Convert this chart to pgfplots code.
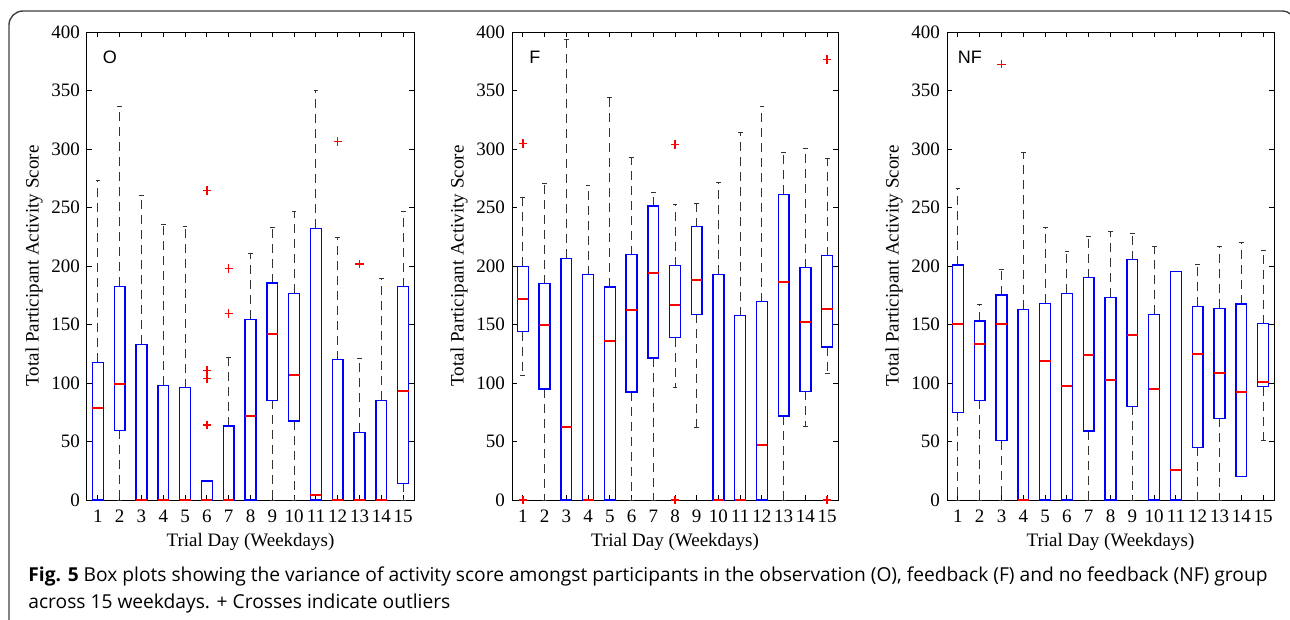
\documentclass[border=0pt]{standalone}
\usepackage{fontspec}
\setmainfont{Liberation Serif}
\newfontfamily\arialfont{Liberation Sans}
\newfontfamily\capfont{Open Sans}
\usepackage{pgfplots}
\pgfplotsset{compat=1.18}
\usepgfplotslibrary{statistics}

\pgfplotsset{
  panel/.style={
    scale only axis, width=163.5pt, height=234pt, anchor=south west,
    xmin=0.5, xmax=15.5, ymin=0, ymax=400,
    xtick={1,...,15}, ytick={0,50,...,400},
    major tick length=2.5pt, tick style={draw=black, line width=0.5pt},
    axis line style={draw=black, line width=0.5pt},
    /pgf/number format/assume math mode=true,
    tick label style={font=\fontsize{9.5}{11}\selectfont},
    label style={font=\fontsize{9.5}{11}\selectfont},
    x tick label style={inner xsep=0pt, yshift=-1.5pt},
    xlabel={Trial Day (Weekdays)},
    ylabel={Total Participant Activity Score},
    ylabel shift=-2.5pt,
    xlabel shift=-1.5pt,
    clip=false,
    boxplot/draw direction=y,
    boxplot/box extend=0.5,
    boxplot/whisker extend=0.22,
    boxplot/every box/.style={draw=blue, line width=0.7pt},
    boxplot/every median/.style={draw=red, line width=0.95pt},
    boxplot/every whisker/.style={draw=black!80, line width=0.5pt, dash pattern=on 4.5pt off 3pt},
  },
  outl/.style={only marks, mark=+, draw=red, mark size=2.1pt,
    mark options={draw=red, fill=red, line width=0.75pt}},
}
% draw position, lower whisker, lower quartile, median, upper quartile, upper whisker
\newcommand{\bx}[6]{\addplot[draw=blue, boxplot prepared={draw position=#1, lower whisker=#2,
  lower quartile=#3, median=#4, upper quartile=#5, upper whisker=#6}] coordinates {};}
\newcommand{\plabel}[1]{\node[font=\arialfont\fontsize{9}{10}\selectfont] at (rel axis cs:0.07,0.945) {#1};}

\begin{document}
\begin{tikzpicture}
\useasboundingbox (0,0) rectangle (645pt,-310pt);
\draw[draw=black!75, line width=0.7pt, rounded corners=7pt]
  (4.5pt,-330pt) -- (4.5pt,-5.5pt) -- (648pt,-5.5pt) -- (648pt,-40pt);

% observation group
\begin{axis}[panel, at={(43.5pt,-250pt)}]
\bx{1}{0}{0}{78.9}{117.7}{273.5}
\bx{2}{0}{59.5}{98.9}{182.6}{335.9}
\bx{3}{0}{0}{0}{133}{260}
\bx{4}{0}{0}{0}{98}{235.6}
\bx{5}{0}{0}{0}{96}{233.6}
\bx{6}{0}{0}{0}{16.2}{16.2}
\bx{7}{0}{0}{0}{63.2}{121.7}
\bx{8}{0}{0}{72.1}{154.4}{210.5}
\bx{9}{0}{85.2}{141.6}{185.5}{233}
\bx{10}{0}{67.5}{106.8}{176.6}{246.4}
\bx{11}{0}{0}{4.3}{232.2}{349.6}
\bx{12}{0}{0}{0}{119.9}{224.2}
\bx{13}{0}{0}{0}{57.8}{121}
\bx{14}{0}{0}{0}{85.2}{188.9}
\bx{15}{0}{14.2}{93.2}{182.3}{246.4}
\addplot[outl] coordinates {(6,264.4) (6,110.8) (6,104) (6,64.1)};
\addplot[outl] coordinates {(12,306.3) (7,197.7) (7,159.5) (13,201.7)};
\plabel{O}
\end{axis}

% feedback group
\begin{axis}[panel, at={(256pt,-250pt)}, width=163pt]
\bx{1}{106.8}{143.9}{171.8}{199.7}{258.4}
\bx{2}{0}{94.9}{149.6}{184.9}{270.7}
\bx{3}{0}{0}{62.4}{206.6}{393.4}
\bx{4}{0}{0}{0}{192.6}{268.7}
\bx{5}{0}{0}{135.9}{182}{343.9}
\bx{6}{0}{92.3}{162.7}{209.7}{292.6}
\bx{7}{0}{121.4}{193.7}{251.3}{262.7}
\bx{8}{96}{138.7}{166.7}{200.3}{252.7}
\bx{9}{61.8}{158.7}{188}{233.6}{253.3}
\bx{10}{0}{0}{0}{192.9}{271.5}
\bx{11}{0}{0}{0}{157.5}{314.2}
\bx{12}{0}{0}{46.7}{169.5}{335.9}
\bx{13}{0}{71.8}{186.6}{261.3}{296.6}
\bx{14}{63}{92.9}{152.4}{198.6}{300.6}
\bx{15}{107.7}{130.8}{163.2}{208.8}{291.7}
\addplot[outl] coordinates {(1,304.8) (1,0) (8,304) (8,0) (15,376.6) (15,0)};
\plabel{F}
\end{axis}

% no feedback group
\begin{axis}[panel, at={(473.5pt,-250pt)}]
\bx{1}{0}{74.9}{150.1}{200.9}{266.4}
\bx{2}{0}{85.2}{133.6}{153}{166.7}
\bx{3}{0}{50.7}{150.1}{175.2}{196.6}
\bx{4}{0}{0}{0}{163}{296.9}
\bx{5}{0}{0}{118.8}{168.1}{232.8}
\bx{6}{0}{0}{97.7}{176.6}{212.3}
\bx{7}{0}{59}{123.9}{190}{224.8}
\bx{8}{0}{0}{102.8}{173.2}{229.3}
\bx{9}{0}{80.1}{140.7}{205.4}{227.6}
\bx{10}{0}{0}{94.9}{158.7}{216.8}
\bx{11}{0}{0}{25.9}{195.2}{195.7}
\bx{12}{0}{45}{124.8}{165.5}{200.9}
\bx{13}{0}{69.8}{108.3}{163.8}{216.8}
\bx{14}{20.2}{20.2}{92}{167.5}{219.7}
\bx{15}{50.7}{96.9}{101.1}{150.7}{213.4}
\addplot[outl] coordinates {(3,372.4)};
\plabel{NF}
\end{axis}

\node[anchor=base west, align=left, inner sep=0pt,
  font=\capfont\fontsize{9.6}{13.5}\selectfont] at (14pt,-304pt)
  {{\bfseries Fig. 5} Box plots showing the variance of activity score amongst participants in the observation (O), feedback (F) and no feedback (NF) group\\
   across 15 weekdays. + Crosses indicate outliers};
\end{tikzpicture}
\end{document}
